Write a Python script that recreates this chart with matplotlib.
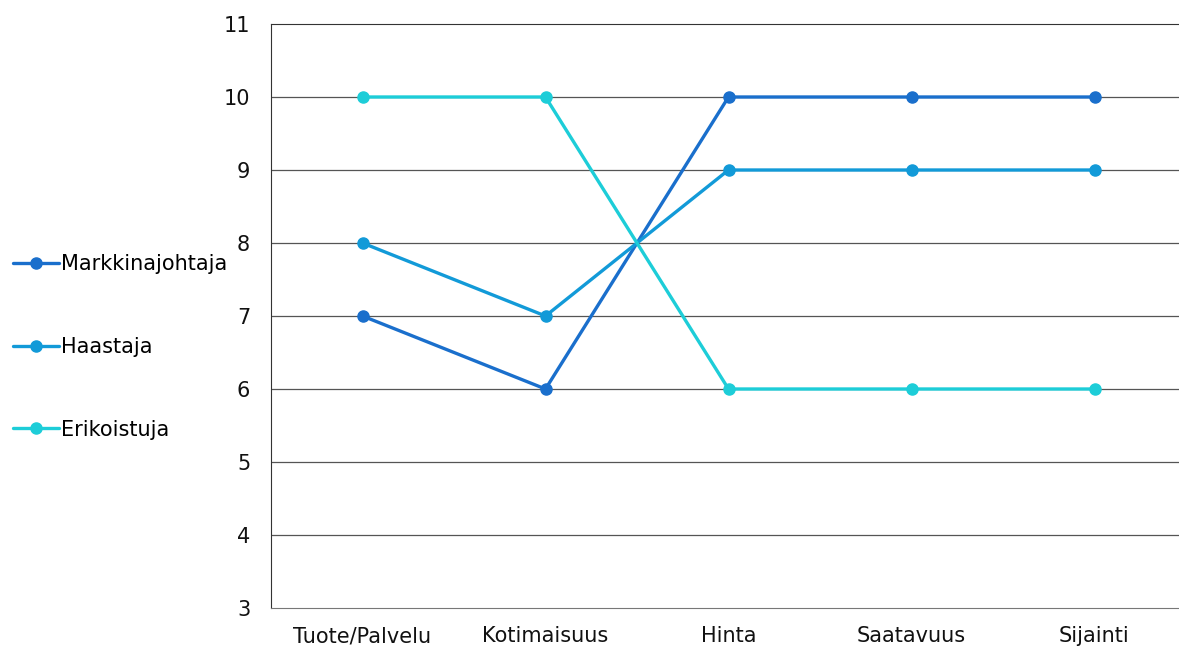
import matplotlib
matplotlib.use("Agg")
import matplotlib.pyplot as plt

categories = ["Tuote/Palvelu", "Kotimaisuus", "Hinta", "Saatavuus", "Sijainti"]
markkinajohtaja = [7, 6, 10, 10, 10]
haastaja = [8, 7, 9, 9, 9]
erikoistuja = [10, 10, 6, 6, 6]
series_names = ["Markkinajohtaja", "Haastaja", "Erikoistuja"]
colors = ["#1A6FCC", "#129AD8", "#1DCDD8"]
y_ticks = [3, 4, 5, 6, 7, 8, 9, 10, 11]

plt.rcParams['font.family'] = ['DejaVu Sans']
fig = plt.figure(figsize=(11.79, 6.5), dpi=100)
ax = fig.add_axes([271/1179, 1-608/650, 915/1179, 584/650])

x = list(range(len(categories)))
handles = []
for vals, name, c in zip([markkinajohtaja, haastaja, erikoistuja], series_names, colors):
    h, = ax.plot(x, vals, color=c, lw=2.4, marker='o', markersize=8,
                 label=name, solid_capstyle='round', zorder=3)
    handles.append(h)

ax.set_xlim(-0.5, len(categories) - 0.5)
ax.set_ylim(3, 11)
ax.set_yticks(y_ticks)
ax.set_xticks(x)
ax.set_xticklabels(categories)
for yv in y_ticks[1:-1]:
    ax.axhline(yv, color="#555555", lw=0.9, zorder=1)
ax.spines["right"].set_visible(False)
ax.spines["top"].set_color("#333333")
ax.spines["left"].set_color("#333333")
ax.spines["bottom"].set_color("#777777")
ax.tick_params(axis='both', length=0, labelsize=15, colors="#111111")
ax.tick_params(axis='y', pad=15)
ax.tick_params(axis='x', pad=13)

fig.legend(handles=handles, labels=series_names, loc='center left',
           bbox_to_anchor=(0.004, 1 - 347/650), frameon=False,
           fontsize=15, handlelength=2.2, handletextpad=0.12,
           labelspacing=3.0, borderaxespad=0)

fig.savefig("out.png", dpi=100)
